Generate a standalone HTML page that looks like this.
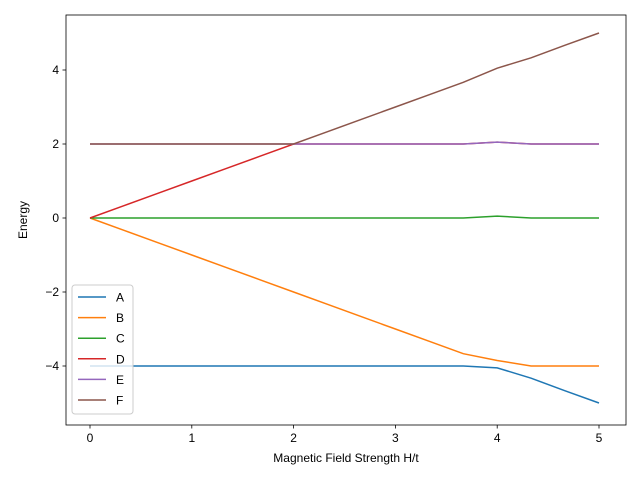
<!DOCTYPE html>
<html><head><meta charset="utf-8"><style>
body{margin:0;background:#fff}
svg{font-family:"Liberation Sans","DejaVu Sans",sans-serif}
</style></head><body>
<svg id="chart" width="640" height="480">
<rect x="0" y="0" width="640" height="480" fill="#fff"/>
<g id="plot"></g>
</svg>
<script>
const xs=[0,0.333,0.667,1,1.333,1.667,2,2.333,2.667,3,3.333,3.667,4,4.333,4.667,5];
const seriesA=[-4,-4,-4,-4,-4,-4,-4,-4,-4,-4,-4,-4,-4.05,-4.33,-4.67,-5];
const seriesB=[0,-0.333,-0.667,-1,-1.333,-1.667,-2,-2.333,-2.667,-3,-3.333,-3.667,-3.85,-4,-4,-4];
const seriesC=[0,0,0,0,0,0,0,0,0,0,0,0,0.05,0,0,0];
const seriesD=[0,0.333,0.667,1,1.333,1.667,2,2,2,2,2,2,2.05,2,2,2];
const seriesE=[2,2,2,2,2,2,2,2,2,2,2,2,2.05,2,2,2];
const seriesF=[2,2,2,2,2,2,2,2.333,2.667,3,3.333,3.667,4.05,4.33,4.67,5];
const names=["A","B","C","D","E","F"];
const colors=["#1f77b4","#ff7f0e","#2ca02c","#d62728","#9467bd","#8c564b"];
const xTicks=[0,1,2,3,4,5];
const yTicks=[-4,-2,0,2,4];
const all=[seriesA,seriesB,seriesC,seriesD,seriesE,seriesF];
const L=66,R=626,T=15,B=425;
const sx=v=>90+v*101.8;
const sy=v=>218-v*37;
const NS="http://www.w3.org/2000/svg";
const g=document.getElementById('plot');
function mk(t,a){const e=document.createElementNS(NS,t);for(const k in a)e.setAttribute(k,a[k]);g.appendChild(e);return e;}
all.forEach((s,i)=>{
 const p=mk('polyline',{points:s.map((v,j)=>sx(xs[j])+','+sy(v)).join(' '),fill:'none',stroke:colors[i],'stroke-width':1.5});
 
 
});
const fr=mk('rect',{x:L,y:T,width:R-L,height:B-T,fill:'none',stroke:'#000','stroke-width':0.8});


xTicks.forEach(v=>{
 mk('line',{x1:sx(v),x2:sx(v),y1:B,y2:B+3.5,stroke:'#000','stroke-width':0.8});
 const t=mk('text',{x:sx(v),y:B+17,'text-anchor':'middle','font-size':12});t.textContent=v;
 
 
});
yTicks.forEach(v=>{
 mk('line',{x1:L-3.5,x2:L,y1:sy(v),y2:sy(v),stroke:'#000','stroke-width':0.8});
 const t=mk('text',{x:L-7,y:sy(v)+4,'text-anchor':'end','font-size':12});t.textContent=v<0?'\u2212'+(-v):v;
 
 
});
const xt=mk('text',{x:346,y:462,'text-anchor':'middle','font-size':12});xt.textContent='Magnetic Field Strength H/t';


const yt=mk('text',{x:0,y:0,'text-anchor':'middle','font-size':12,transform:'translate(27,220) rotate(-90)'});yt.textContent='Energy';


const lg=mk('rect',{x:72,y:285,width:61,height:129,rx:3,fill:'#fff','fill-opacity':0.8,stroke:'#ccc'});


names.forEach((n,i)=>{
 const y=297+i*20.6;
 mk('line',{x1:78,x2:106,y1:y,y2:y,stroke:colors[i],'stroke-width':1.5});
 const t=mk('text',{x:116,y:y+4.5,'font-size':12});t.textContent=n;
 
 
});
</script>
</body></html>
